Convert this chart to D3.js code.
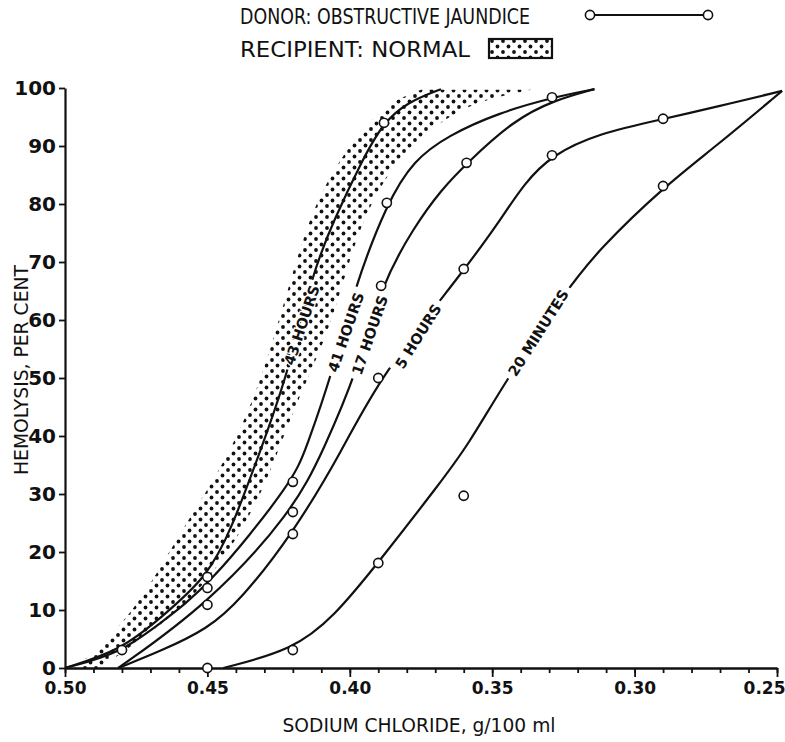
<!DOCTYPE html>
<html>
<head>
<meta charset="utf-8">
<script src="https://cdn.jsdelivr.net/npm/d3@7"></script>
<style>
  body { margin: 0; background: #fff; }
  svg { display: block; }
  text { font-family: "DejaVu Sans", sans-serif; fill: #111; }
</style>
</head>
<body>
<svg id="canvas" width="785" height="742"></svg>
<script>
// Axis ticks
let xMajor = [0.50, 0.45, 0.40, 0.35, 0.30, 0.25];
let xMinor = d3.range(0, 26).map((i) => +(0.50 - i * 0.01).toFixed(2));
let yTicks = [0, 10, 20, 30, 40, 50, 60, 70, 80, 90, 100];

// Normal recipient band: hemolysis level, left (high NaCl) and right (low NaCl) edge
let normalY = [0, 4.8, 10, 16.4, 23.3, 30.7, 37.6, 46.2, 56.6, 66.9, 74.3, 80.7, 85.9, 91.0, 95.0, 97.9, 99.7];
let normalLeft = [0.4965, 0.4852, 0.4761, 0.4676, 0.4595, 0.4500, 0.4419, 0.4338, 0.4268, 0.4208, 0.4162, 0.4113, 0.4056, 0.3986, 0.3915, 0.3845, 0.3750];
let normalRight = [0.4877, 0.4736, 0.4595, 0.4479, 0.4384, 0.4306, 0.4250, 0.4183, 0.4085, 0.4021, 0.3975, 0.3919, 0.3856, 0.3768, 0.3655, 0.3539, 0.3363];

// Fitted curves [NaCl, % hemolysis]
let curve43h = [[0.500, 0], [0.4803, 3.1], [0.4665, 8.6], [0.450, 15.7], [0.4415, 24.0], [0.4313, 37.6], [0.4222, 50.0], [0.413, 68.3], [0.4056, 77.2], [0.3961, 87.1], [0.3884, 94.0], [0.3796, 97.6], [0.368, 99.8]];
let curve41h = [[0.500, 0], [0.4803, 2.6], [0.4665, 7.8], [0.450, 13.8], [0.4201, 32.1], [0.4155, 37.6], [0.4056, 51.7], [0.3986, 65.2], [0.387, 80.2], [0.3775, 87.6], [0.3655, 91.8], [0.3479, 95.7], [0.3285, 98.4], [0.3141, 99.8]];
let curve17h = [[0.4813, 0], [0.450, 10.9], [0.4201, 26.9], [0.4092, 37.6], [0.3972, 51.4], [0.3891, 65.9], [0.3775, 76.0], [0.368, 82.4], [0.3588, 87.1], [0.3423, 94.5], [0.3282, 97.9], [0.3141, 99.8]];
let curve5h = [[0.4813, 0], [0.4665, 2.9], [0.450, 6.7], [0.4384, 11.7], [0.4201, 23.1], [0.4025, 37.6], [0.3898, 50.0], [0.3595, 68.8], [0.3479, 76.7], [0.3387, 83.6], [0.3292, 88.4], [0.3127, 92.2], [0.2894, 94.7], [0.2718, 96.7], [0.2482, 99.5]];
let curve20m = [[0.4444, 0], [0.4201, 3.1], [0.4056, 8.8], [0.3901, 18.1], [0.3680, 32.1], [0.3585, 38.4], [0.3458, 49.1], [0.3246, 64.7], [0.3127, 72.1], [0.2894, 83.1], [0.2718, 89.8], [0.2482, 99.5]];

// Observed points (open circles)
let obs43h = [[0.48, 3.1], [0.45, 15.7], [0.388, 94.0]];
let obs41h = [[0.45, 13.8], [0.42, 32.1], [0.387, 80.2], [0.329, 98.4]];
let obs17h = [[0.45, 10.9], [0.42, 26.9], [0.389, 65.9], [0.359, 87.1]];
let obs5h = [[0.42, 23.1], [0.39, 50.0], [0.36, 68.8], [0.329, 88.4], [0.29, 94.7]];
let obs20m = [[0.45, 0], [0.42, 3.1], [0.39, 18.1], [0.36, 29.7], [0.29, 83.1]];

// Curve labels, placed on the curve at [NaCl, % hemolysis], rotated
let labelText = ['43 HOURS', '41 HOURS', '17 HOURS', '5 HOURS', '20 MINUTES'];
let labelPos = [[0.4169, 59.1], [0.4014, 57.9], [0.3930, 57.4], [0.3760, 57.2], [0.3338, 57.8]];
let labelAngle = [-71.6, -71, -71, -58, -57.5];

let curves = [curve43h, curve41h, curve17h, curve5h, curve20m];
let observed = [obs43h, obs41h, obs17h, obs5h, obs20m];

let svg = d3.select('#canvas');
let x = d3.scaleLinear().domain([0.50, 0.25]).range([65, 777]);
let y = d3.scaleLinear().domain([0, 100]).range([668, 88]);

let defs = svg.append('defs');
let pat = defs.append('pattern').attr('id', 'dots')
    .attr('patternUnits', 'userSpaceOnUse').attr('width', 11).attr('height', 11);
pat.append('circle').attr('cx', 2.5).attr('cy', 2.5).attr('r', 1.9).attr('fill', '#111');
pat.append('circle').attr('cx', 8).attr('cy', 8).attr('r', 1.9).attr('fill', '#111');

// Normal band
let band = normalY.map((v, i) => ({ y: v, l: normalLeft[i], r: normalRight[i] }));
svg.append('path')
    .datum(band)
    .attr('d', d3.area().y((d) => y(d.y)).x0((d) => x(d.l)).x1((d) => x(d.r)).curve(d3.curveBasis))
    .attr('fill', 'url(#dots)');

// Curve labels (drawn first so their size is known for the mask)
let labels = svg.append('g').selectAll('text')
    .data(labelText)
    .enter()
    .append('text')
    .attr('transform', (d, i) => `translate(${x(labelPos[i][0])},${y(labelPos[i][1])}) rotate(${labelAngle[i]})`)
    .attr('text-anchor', 'middle')
    .attr('dy', '0.36em')
    .attr('font-size', 14.5)
    .attr('font-weight', 'bold')
    .attr('stroke', '#fff')
    .attr('stroke-width', 2.5)
    .attr('paint-order', 'stroke')
    .text((d) => d);

let mask = defs.append('mask').attr('id', 'gap').attr('maskUnits', 'userSpaceOnUse')
    .attr('x', 0).attr('y', 0).attr('width', 785).attr('height', 742);
mask.append('rect').attr('width', 785).attr('height', 742).attr('fill', '#fff');
labels.each(function (d, i) {
    let w = this.getComputedTextLength() + 10;
    mask.append('rect')
        .attr('transform', `translate(${x(labelPos[i][0])},${y(labelPos[i][1])}) rotate(${labelAngle[i]})`)
        .attr('x', -w / 2).attr('y', -9).attr('width', w).attr('height', 18)
        .attr('fill', '#000');
});

// Curves
let line = d3.line().x((d) => x(d[0])).y((d) => y(d[1])).curve(d3.curveBasis);
svg.append('g').attr('mask', 'url(#gap)')
    .selectAll('path')
    .data(curves)
    .enter()
    .append('path')
    .attr('d', line)
    .attr('fill', 'none')
    .attr('stroke', '#111')
    .attr('stroke-width', 2.2);

// Axes
let xAxisMinor = svg.append('g').attr('transform', `translate(0,${y(0)})`)
    .call(d3.axisBottom(x).tickValues(xMinor).tickSize(5).tickSizeOuter(0).tickFormat(''));
let xAxis = svg.append('g').attr('transform', `translate(0,${y(0)})`)
    .call(d3.axisBottom(x).tickValues(xMajor).tickSize(9).tickSizeOuter(0).tickPadding(5).tickFormat(d3.format('.2f')));
let yAxis = svg.append('g').attr('transform', `translate(${x(0.50)},0)`)
    .call(d3.axisLeft(y).tickValues(yTicks).tickSize(6).tickSizeOuter(0).tickPadding(3));

[xAxisMinor, xAxis, yAxis].forEach((g) => {
    g.selectAll('path.domain').attr('stroke', '#111').attr('stroke-width', 2.2);
    g.selectAll('line').attr('stroke', '#111').attr('stroke-width', 1.8);
    g.selectAll('text').attr('font-weight', 'bold').attr('font-family', '"DejaVu Sans", sans-serif').attr('fill', '#111');
});
xAxis.selectAll('text').attr('font-size', 17);
yAxis.selectAll('text').attr('font-size', 20);
// last x label sits flush with the right edge
xAxis.selectAll('.tick').filter((d) => d === 0.25).select('text')
    .attr('text-anchor', 'end').attr('x', 8);

// Observed circles
svg.append('g').selectAll('circle')
    .data(observed.flat())
    .enter()
    .append('circle')
    .attr('cx', (d) => x(d[0]))
    .attr('cy', (d) => y(d[1]))
    .attr('r', 4.6)
    .attr('fill', '#fff')
    .attr('stroke', '#111')
    .attr('stroke-width', 1.6);

// Axis titles
svg.append('text')
    .attr('x', 419).attr('y', 732)
    .attr('text-anchor', 'middle')
    .attr('font-size', 20)
    .attr('textLength', 273).attr('lengthAdjust', 'spacingAndGlyphs')
    .text('SODIUM CHLORIDE, g/100 ml');
svg.append('text')
    .attr('transform', 'translate(28,370) rotate(-90)')
    .attr('text-anchor', 'middle')
    .attr('font-size', 20)
    .attr('textLength', 210).attr('lengthAdjust', 'spacingAndGlyphs')
    .text('HEMOLYSIS, PER CENT');

// Legend
svg.append('text').attr('x', 240).attr('y', 24).attr('font-size', 22)
    .attr('textLength', 290).attr('lengthAdjust', 'spacingAndGlyphs')
    .text('DONOR: OBSTRUCTIVE  JAUNDICE');
svg.append('line').attr('x1', 590).attr('x2', 708).attr('y1', 15).attr('y2', 15)
    .attr('stroke', '#111').attr('stroke-width', 2.2);
svg.append('g').selectAll('circle').data([590, 708]).enter().append('circle')
    .attr('cx', (d) => d).attr('cy', 15).attr('r', 4.6)
    .attr('fill', '#fff').attr('stroke', '#111').attr('stroke-width', 1.6);
svg.append('text').attr('x', 240).attr('y', 57).attr('font-size', 22)
    .attr('textLength', 230).attr('lengthAdjust', 'spacingAndGlyphs')
    .text('RECIPIENT: NORMAL');
svg.append('rect').attr('x', 489).attr('y', 39).attr('width', 63).attr('height', 19)
    .attr('fill', 'url(#dots)').attr('stroke', '#111').attr('stroke-width', 2.2);
</script>
</body>
</html>
